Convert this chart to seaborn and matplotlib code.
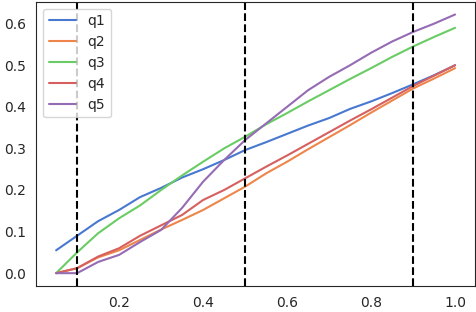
import numpy as np
import pandas as pd
import matplotlib
matplotlib.use("Agg")
import matplotlib.pyplot as plt
import seaborn as sns

x = [0.05, 0.10, 0.15, 0.20, 0.25, 0.30, 0.35, 0.40, 0.45, 0.50,
     0.55, 0.60, 0.65, 0.70, 0.75, 0.80, 0.85, 0.90, 0.95, 1.00]

q1 = [0.055, 0.090, 0.125, 0.152, 0.183, 0.205, 0.230, 0.250, 0.272, 0.296,
      0.315, 0.335, 0.355, 0.373, 0.395, 0.413, 0.433, 0.454, 0.476, 0.500]
q2 = [0.000, 0.012, 0.038, 0.055, 0.080, 0.105, 0.128, 0.152, 0.180, 0.208,
      0.240, 0.268, 0.298, 0.327, 0.356, 0.386, 0.415, 0.444, 0.468, 0.493]
q3 = [0.000, 0.050, 0.096, 0.132, 0.163, 0.200, 0.235, 0.268, 0.300, 0.328,
      0.358, 0.385, 0.413, 0.440, 0.467, 0.493, 0.520, 0.545, 0.568, 0.590]
q4 = [0.000, 0.012, 0.040, 0.060, 0.090, 0.115, 0.140, 0.176, 0.200, 0.228,
      0.256, 0.283, 0.311, 0.339, 0.367, 0.394, 0.422, 0.450, 0.475, 0.500]
q5 = [0.000, 0.000, 0.027, 0.044, 0.075, 0.104, 0.157, 0.220, 0.272, 0.320,
      0.360, 0.400, 0.440, 0.472, 0.500, 0.530, 0.557, 0.580, 0.600, 0.622]

series = {"q1": q1, "q2": q2, "q3": q3, "q4": q4, "q5": q5}
markers_x = [0.1, 0.5, 0.9]

df = pd.concat([pd.DataFrame({"x": x, "y": v, "name": k}) for k, v in series.items()])

sns.set_style("white")
fig, ax = plt.subplots(figsize=(4.76, 3.12), dpi=100)
sns.lineplot(data=df, x="x", y="y", hue="name", palette="muted", ax=ax, linewidth=1.5)
for v in markers_x:
    ax.axvline(v, color="k", linestyle="--", linewidth=1.5)
ax.set_xlabel("")
ax.set_ylabel("")
ax.legend(loc="upper left")
fig.subplots_adjust(left=0.076, right=0.998, bottom=0.083, top=0.995)
fig.savefig("out.png")
